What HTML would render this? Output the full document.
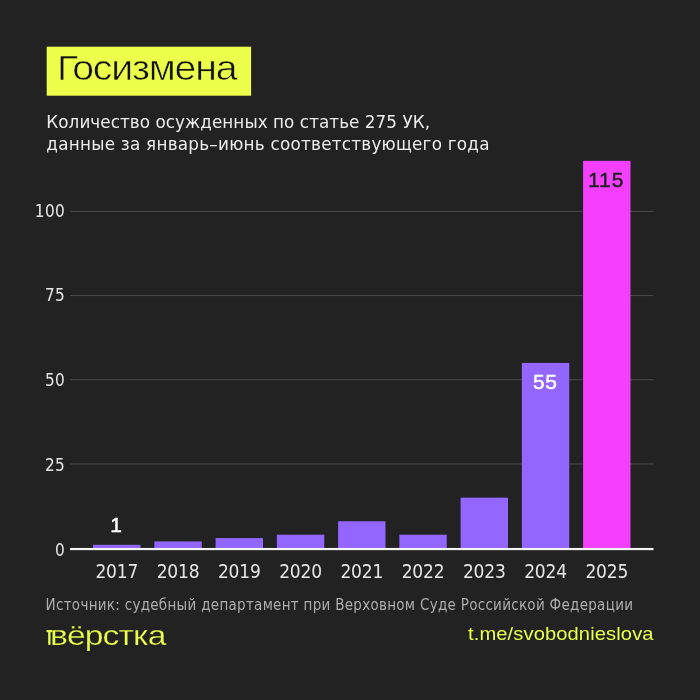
<!DOCTYPE html>
<html lang="ru"><head><meta charset="utf-8"><title>Госизмена</title>
<style>
html,body{margin:0;padding:0;}
body{width:700px;height:700px;background:#222222;position:relative;overflow:hidden;font-family:"DejaVu Sans Condensed","DejaVu Sans","Liberation Sans",sans-serif;color:#ececec;}
svg.chart{position:absolute;left:0;top:0;}
.title{position:absolute;left:46.7px;top:46.4px;width:204.4px;height:49.3px;}
.title span.t{position:absolute;left:10.4px;top:1px;font-family:"Liberation Sans",sans-serif;font-size:35.7px;line-height:42px;color:#111;letter-spacing:-1.1px;white-space:nowrap;transform:scaleX(1.1);transform-origin:0 0;-webkit-text-stroke:0.6px #ecff4a;}
.title span.g{letter-spacing:-5.5px;}
.sub{position:absolute;left:46.3px;font-family:"DejaVu Sans","Liberation Sans",sans-serif;font-size:16.8px;line-height:22px;white-space:nowrap;color:#ececec;}
.yl{position:absolute;left:0;width:65.2px;text-align:right;font-size:17px;line-height:24px;color:#e6e6e6;letter-spacing:0.4px;}
.yr{position:absolute;top:557.6px;width:80px;text-align:center;font-size:19px;line-height:26px;color:#e6e6e6;letter-spacing:-0.2px}
.val{position:absolute;width:80px;text-align:center;font-family:"Liberation Sans",sans-serif;font-size:21px;line-height:26px;-webkit-text-stroke:0.45px currentColor;}
.src{position:absolute;left:45.6px;top:594.6px;font-size:15px;line-height:20px;color:#adadad;white-space:nowrap;letter-spacing:0.29px;}
.logo{position:absolute;left:50.4px;top:617.5px;font-family:"Liberation Sans",sans-serif;font-size:28.5px;line-height:34px;color:#ecff4a;white-space:nowrap;letter-spacing:-0.75px;transform:scaleX(1.18);transform-origin:0 0;-webkit-text-stroke:0.25px #222;}
.tg{position:absolute;left:468.4px;top:621.2px;font-family:"Liberation Sans",sans-serif;font-size:19px;line-height:26px;color:#ecff4a;white-space:nowrap;letter-spacing:0.1px;transform:scaleX(1.06);transform-origin:0 0;}
</style></head><body>
<svg class="chart" width="700" height="700" viewBox="0 0 700 700">
<rect x="46.7" y="46.7" width="204.4" height="49.0" fill="#ecff4a"/>
<rect x="70" y="463.470" width="583.5" height="1" fill="#4b4b4b"/>
<rect x="70" y="379.270" width="583.5" height="1" fill="#4b4b4b"/>
<rect x="70" y="295.070" width="583.5" height="1" fill="#4b4b4b"/>
<rect x="70" y="210.870" width="583.5" height="1" fill="#4b4b4b"/>
<rect x="93.10" y="544.80" width="47.4" height="4.17" fill="#9266ff"/>
<rect x="154.35" y="541.43" width="47.4" height="7.54" fill="#9266ff"/>
<rect x="215.60" y="538.07" width="47.4" height="10.90" fill="#9266ff"/>
<rect x="276.85" y="534.70" width="47.4" height="14.27" fill="#9266ff"/>
<rect x="338.10" y="521.23" width="47.4" height="27.74" fill="#9266ff"/>
<rect x="399.35" y="534.70" width="47.4" height="14.27" fill="#9266ff"/>
<rect x="460.60" y="497.65" width="47.4" height="51.32" fill="#9266ff"/>
<rect x="521.85" y="362.93" width="47.4" height="186.04" fill="#9266ff"/>
<rect x="583.10" y="160.85" width="47.4" height="388.12" fill="#f53fff"/>
<rect x="70" y="547.95" width="583.5" height="2.2" fill="#f4f4f4"/>
<rect x="46.5" y="630.1" width="7" height="2.1" fill="#ecff4a"/>
<rect x="48.2" y="630.1" width="2.3" height="14.7" fill="#ecff4a"/>
</svg>
<div class="title"><span class="t"><span class="g">Г</span>осизмена</span></div>
<div class="sub" style="top:110.6px;letter-spacing:0.06px">Количество осужденных по статье 275 УК,</div>
<div class="sub" style="top:133px;letter-spacing:0.25px">данные за январь–июнь соответствующего года</div>
<div class="yr" style="left:76.80px">2017</div>
<div class="yr" style="left:138.05px">2018</div>
<div class="yr" style="left:199.30px">2019</div>
<div class="yr" style="left:260.55px">2020</div>
<div class="yr" style="left:321.80px">2021</div>
<div class="yr" style="left:383.05px">2022</div>
<div class="yr" style="left:444.30px">2023</div>
<div class="yr" style="left:505.55px">2024</div>
<div class="yr" style="left:566.80px">2025</div>
<div class="yl" style="top:538.10px">0</div>
<div class="yl" style="top:452.70px">25</div>
<div class="yl" style="top:368.00px">50</div>
<div class="yl" style="top:283.10px">75</div>
<div class="yl" style="top:198.70px">100</div>
<div class="val" style="left:76.20px;top:512.4px;color:#fff">1</div>
<div class="val" style="left:505.25px;top:369.4px;color:#fff;letter-spacing:0.5px">55</div>
<div class="val" style="left:566.20px;top:167.4px;color:#222;letter-spacing:0.9px">115</div>
<div class="src">Источник: судебный департамент при Верховном Суде Российской Федерации</div>

<div class="logo">вёрстка</div>
<div class="tg">t.me/svobodnieslova</div>
</body></html>
